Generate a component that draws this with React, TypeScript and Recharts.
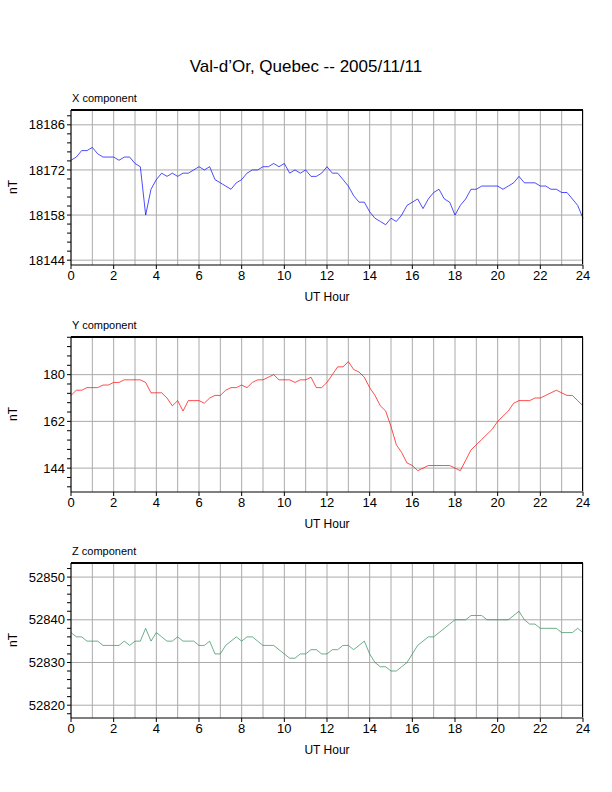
import React from 'react';
import { LineChart, Line, XAxis, YAxis, CartesianGrid } from 'recharts';

const xVals = [18175,18176,18178,18178, 18179,18177,18176,18176, 18176,18175,18176,18176, 18174,18173,18158,18166,
 18169,18171,18170,18171, 18170,18171,18171,18172, 18173,18172,18173,18169, 18168,18167,18166,18168, 18169,18171,18172,18172,
 18173,18173,18174,18173, 18174,18171,18172,18171, 18172,18170,18170,18171, 18173,18171,18171,18169, 18167,18164,18162,18162,
 18159,18157,18156,18155, 18157,18156,18158,18161, 18162,18163,18160,18163, 18165,18166,18163,18162, 18158,18161,18163,18166,
 18166,18167,18167,18167, 18167,18166,18167,18168, 18170,18168,18168,18168, 18167,18167,18166,18166, 18165,18165,18163,18161, 18157];
const yVals = [172,174,174,175, 175,175,176,176, 177,177,178,178, 178,178,177,173, 173,173,171,168, 170,166,170,170,
 170,169,171,172, 172,174,175,175, 176,175,177,178, 178,179,180,178, 178,178,177,178, 178,179,175,175, 177,180,183,183,
 185,182,181,179, 175,172,168,166, 160,153,150,146, 145,143,144,145, 145,145,145,145, 144,143,147,151, 153,155,157,159,
 162,164,166,169, 170,170,170,171, 171,172,173,174, 173,172,172,170, 168];
const zVals = [52837,52836,52836,52835, 52835,52835,52834,52834, 52834,52834,52835,52834, 52835,52835,52838,52835,
 52837,52836,52835,52835, 52836,52835,52835,52835, 52834,52834,52835,52832, 52832,52834,52835,52836, 52835,52836,52836,52835,
 52834,52834,52834,52833, 52832,52831,52831,52832, 52832,52833,52833,52832, 52832,52833,52833,52834, 52834,52833,52834,52835,
 52832,52830,52829,52829, 52828,52828,52829,52830, 52832,52834,52835,52836, 52836,52837,52838,52839, 52840,52840,52840,52841,
 52841,52841,52840,52840, 52840,52840,52840,52841, 52842,52840,52839,52839, 52838,52838,52838,52838, 52837,52837,52837,52838, 52837];

const hourTicks = [0,2,4,6,8,10,12,14,16,18,20,22,24];
const hourGrid = Array.from({ length: 25 }, (_, i) => i);

const panels = [
  { name: 'X component', vals: xVals, color: '#0000ff', domain: [18142.5, 18190.6], major: [18144,18158,18172,18186], step: 14/5, top: 110 },
  { name: 'Y component', vals: yVals, color: '#ff0000', domain: [134.8, 194.5], major: [144,162,180], step: 18/5, top: 337 },
  { name: 'Z component', vals: zVals, color: '#2e8b57', domain: [52817, 52853.3], major: [52820,52830,52840,52850], step: 2, top: 563 },
];

const font = '"Liberation Sans", Arial, sans-serif';

function Panel({ p }: { p: typeof panels[0] }) {
  const data = p.vals.map((v, i) => ({ t: i * 0.25, v }));
  const ticks: number[] = [];
  for (let k = -10; k <= 30; k++) {
    const v = Math.round((p.major[0] + k * p.step) * 1000) / 1000;
    if (v >= p.domain[0] && v <= p.domain[1]) ticks.push(v);
  }
  const isMajor = (v: number) => p.major.some(m => Math.abs(m - v) < 0.01);
  const chartTop = p.top - 20;
  return (
    <div style={{ position: 'absolute', left: 0, top: chartTop }}>
      <LineChart width={612} height={20 + 155 + 40} data={data} margin={{ top: 20, right: 29, left: 11, bottom: 10 }}>
        <CartesianGrid horizontalValues={p.major} verticalValues={hourGrid} stroke="#aaa" />
        <XAxis dataKey="t" type="number" domain={[0, 24]} ticks={hourTicks} height={30} stroke="#000" interval={0}
          tick={{ fontSize: 13, fill: '#000', fontFamily: font }} tickSize={4} />
        <YAxis dataKey="v" type="number" domain={p.domain} ticks={ticks} width={60} stroke="#000" allowDataOverflow interval={0}
          tickFormatter={(v: number) => (isMajor(v) ? String(Math.round(v)) : '')}
          tick={{ fontSize: 13, fill: '#000', fontFamily: font }} tickSize={4} />
        <Line dataKey="v" stroke={p.color} strokeWidth={0.7} dot={false} isAnimationActive={false} />
      </LineChart>
      <div style={{ position: 'absolute', left: 71, top: 19, width: 512, height: 155, boxSizing: 'border-box',
        borderTop: '2px solid #000', borderRight: '1px solid #000', pointerEvents: 'none' }} />
      <div style={{ position: 'absolute', left: 72, top: 2, fontSize: 11, fontFamily: font }}>{p.name}</div>
      <div style={{ position: 'absolute', left: 71, width: 512, top: 200, textAlign: 'center', fontSize: 12, fontFamily: font }}>UT Hour</div>
      <div style={{ position: 'absolute', left: 6, top: 90, fontSize: 12, fontFamily: font, transform: 'rotate(-90deg)' }}>nT</div>
    </div>
  );
}

export default function App() {
  return (
    <div style={{ position: 'absolute', left: 0, top: 0, width: 612, height: 792, background: '#fff' }}>
      <div style={{ position: 'absolute', left: 0, width: 612, top: 57, textAlign: 'center', fontSize: 17, fontFamily: font }}>
        Val-d’Or, Quebec -- 2005/11/11
      </div>
      {panels.map(p => <Panel key={p.name} p={p} />)}
    </div>
  );
}
